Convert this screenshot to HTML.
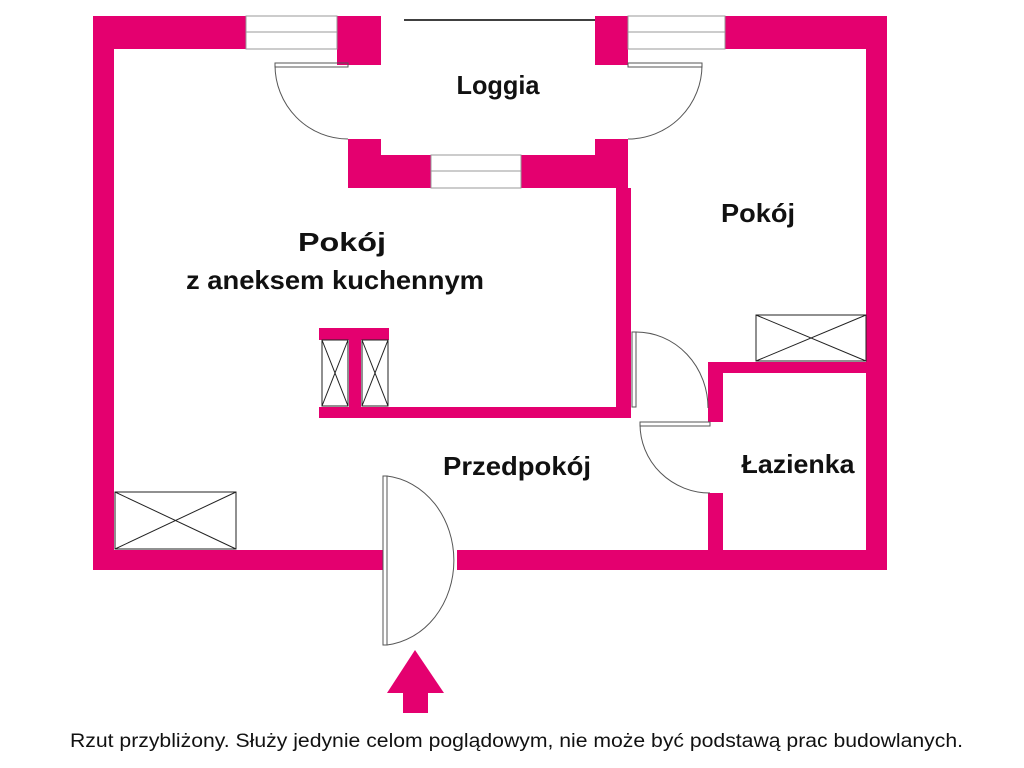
<!DOCTYPE html>
<html><head><meta charset="utf-8"><style>
html,body{margin:0;padding:0;background:#fff;width:1024px;height:768px;overflow:hidden}
</style></head><body>
<svg width="1024" height="768" viewBox="0 0 1024 768" xmlns="http://www.w3.org/2000/svg">
<g fill="#e4006f">
<rect x="93" y="16" width="153" height="33"/>
<rect x="337" y="16" width="44" height="49"/>
<rect x="595" y="16" width="33" height="49"/>
<rect x="725" y="16" width="162" height="33"/>
<rect x="93" y="16" width="21" height="554"/>
<rect x="866" y="16" width="21" height="554"/>
<rect x="93" y="550" width="290" height="20"/>
<rect x="457" y="550" width="430" height="20"/>
<rect x="348" y="139" width="33" height="49"/>
<rect x="595" y="139" width="33" height="49"/>
<rect x="348" y="155" width="83" height="33"/>
<rect x="521" y="155" width="107" height="33"/>
<rect x="616" y="188" width="15" height="230"/>
<rect x="319" y="407" width="312" height="11"/>
<rect x="319" y="328" width="70" height="12"/>
<rect x="349" y="340" width="12" height="67"/>
<rect x="708" y="362" width="158" height="11"/>
<rect x="708" y="362" width="15" height="60"/>
<rect x="708" y="493" width="15" height="57"/>
<polygon points="415,650 444,693 387,693"/>
<rect x="403" y="692" width="25" height="21"/>
</g>
<g fill="#fff" stroke="#999" stroke-width="1">
<rect x="246" y="16" width="91" height="33"/><line x1="246" y1="32" x2="337" y2="32"/>
<rect x="628" y="16" width="97" height="33"/><line x1="628" y1="32" x2="725" y2="32"/>
<rect x="431" y="155" width="90" height="33"/><line x1="431" y1="171" x2="521" y2="171"/>
</g>
<line x1="404" y1="20" x2="595" y2="20" stroke="#000" stroke-width="1.5"/>
<g fill="none" stroke="#555" stroke-width="1">
<rect x="275" y="63" width="73" height="4"/>
<path d="M275 65 A73 74 0 0 0 348 139"/>
<rect x="628" y="63" width="74" height="4"/>
<path d="M702 65 A74 74 0 0 1 628 139"/>
<rect x="632" y="332" width="4" height="75"/>
<path d="M636 332 A72 76 0 0 1 708 408"/>
<rect x="640" y="422" width="70" height="4"/>
<path d="M640 424 A70 69 0 0 0 710 493"/>
<rect x="383" y="476" width="4" height="169"/>
<path d="M387 476 A75 85 0 0 1 387 645"/>
</g>
<g fill="none" stroke="#222" stroke-width="1">
<rect x="322" y="340" width="26" height="66"/><path d="M322 340 L348 406 M348 340 L322 406"/>
<rect x="362" y="340" width="26" height="66"/><path d="M362 340 L388 406 M388 340 L362 406"/>
<rect x="756" y="315" width="110" height="46"/><path d="M756 315 L866 361 M866 315 L756 361"/>
<rect x="115" y="492" width="121" height="57"/><path d="M115 492 L236 549 M236 492 L115 549"/>
</g>
<g font-family="Liberation Sans, sans-serif" font-weight="bold" font-size="26" fill="#111" text-anchor="middle" lengthAdjust="spacingAndGlyphs">
<text x="498" y="94" textLength="83" lengthAdjust="spacingAndGlyphs">Loggia</text>
<text x="758" y="222" textLength="74" lengthAdjust="spacingAndGlyphs">Pokój</text>
<text x="342" y="251" textLength="88" lengthAdjust="spacingAndGlyphs">Pokój</text>
<text x="335" y="289" textLength="298" lengthAdjust="spacingAndGlyphs">z aneksem kuchennym</text>
<text x="517" y="475" textLength="148" lengthAdjust="spacingAndGlyphs">Przedpokój</text>
<text x="798" y="473" textLength="113" lengthAdjust="spacingAndGlyphs">Łazienka</text>
</g>
<text x="70" y="747" font-family="Liberation Sans, sans-serif" font-size="19" fill="#111" textLength="893" lengthAdjust="spacingAndGlyphs">Rzut przybliżony. Służy jedynie celom poglądowym, nie może być podstawą prac budowlanych.</text>
</svg>
</body></html>
